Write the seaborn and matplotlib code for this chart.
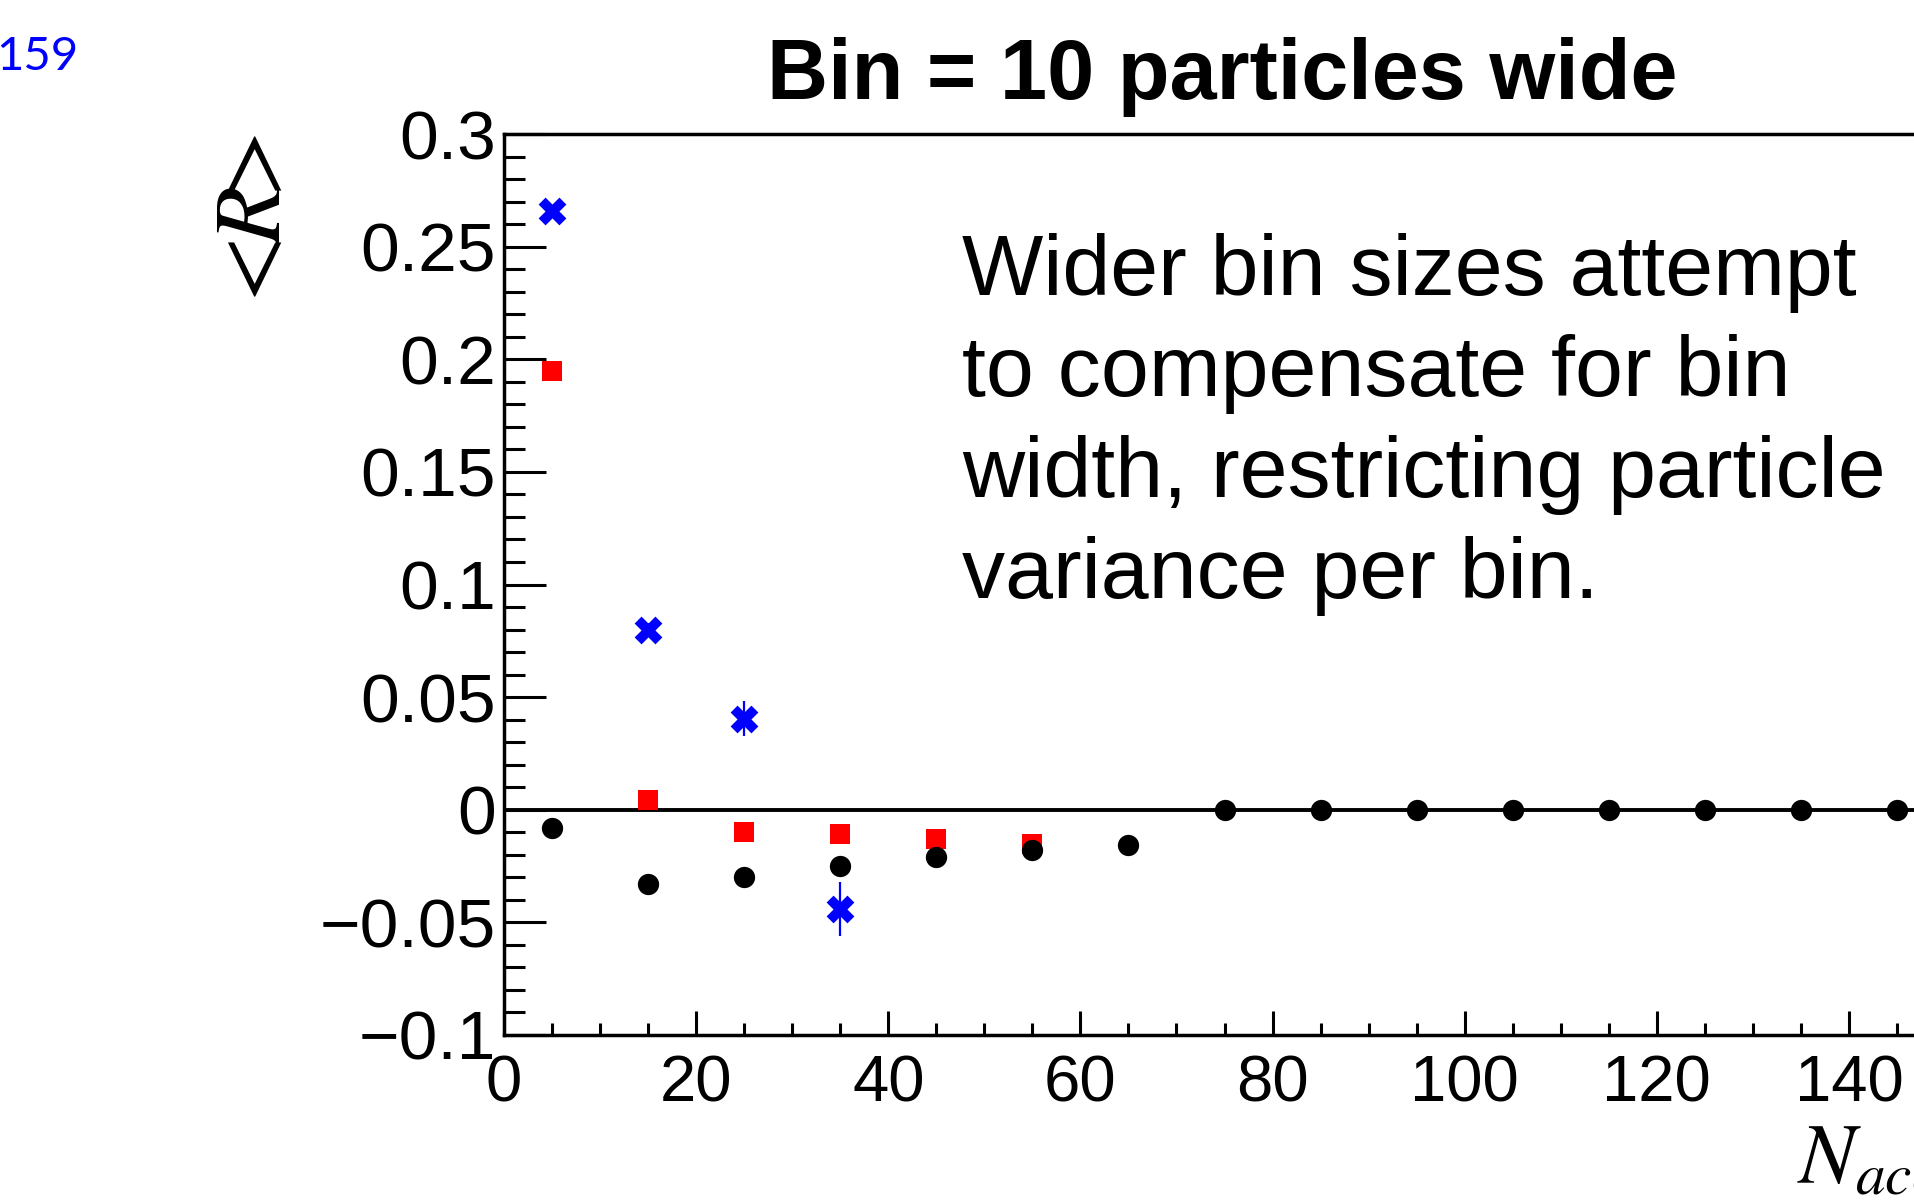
import matplotlib
matplotlib.use('Agg')
import matplotlib.pyplot as plt
from matplotlib.ticker import MultipleLocator, FuncFormatter
import seaborn as sns
import pandas as pd

# bin centres along N_acc, bins are 10 particles wide
black_x = [5, 15, 25, 35, 45, 55, 65, 75, 85, 95, 105, 115, 125, 135, 145]
black_y = [-0.008, -0.033, -0.030, -0.025, -0.021, -0.018, -0.0155,
           0.0, 0.0, 0.0, 0.0, 0.0, 0.0, 0.0, 0.0]

red_x = [5, 15, 25, 35, 45, 55]
red_y = [0.195, 0.0045, -0.010, -0.0107, -0.013, -0.015]

blue_x = [5, 15, 25, 35]
blue_y = [0.266, 0.080, 0.0405, -0.044]
blue_err = [0.002, 0.003, 0.0078, 0.0119]

title = 'Bin = 10 particles wide'
note_lines = ['Wider bin sizes attempt',
              'to compensate for bin',
              'width, restricting particle',
              'variance per bin.']
slide_no = '159'

W, H = 1914, 1202


def fig_xy(x, y):
    """pixel position (from top-left) -> figure fraction"""
    return x / W, 1 - y / H


sns.set_style('ticks')
plt.rcParams['font.family'] = ['Liberation Sans', 'DejaVu Sans']
plt.rcParams['mathtext.fontset'] = 'stix'
for key in ['text.color', 'axes.labelcolor', 'xtick.color', 'ytick.color', 'axes.edgecolor']:
    plt.rcParams[key] = 'black'

fig = plt.figure(figsize=(W / 100, H / 100), dpi=100)
fig.patch.set_facecolor('white')
ax = fig.add_axes([504 / W, 1 - 1035 / H, 1441 / W, (1035 - 134) / H])

df_black = pd.DataFrame({'n': black_x, 'r': black_y})
df_red = pd.DataFrame({'n': red_x, 'r': red_y})
df_blue = pd.DataFrame({'n': blue_x, 'r': blue_y})

ax.axhline(0, color='black', lw=2.8, zorder=1)

sns.scatterplot(data=df_red, x='n', y='r', ax=ax, marker='s', color='#ff0000',
                s=190, linewidth=0, zorder=3, legend=False)
sns.scatterplot(data=df_black, x='n', y='r', ax=ax, marker='o', color='black',
                s=235, linewidth=0, zorder=4, legend=False)
ax.errorbar(blue_x, blue_y, yerr=blue_err, fmt='none', ecolor='#0000ff',
            elinewidth=1.6, zorder=5)
sns.scatterplot(data=df_blue, x='n', y='r', ax=ax, marker='X', color='#0000ff',
                s=400, linewidth=0, zorder=6, legend=False)

ax.set_xlim(0, 150)
ax.set_ylim(-0.1, 0.3)
ax.set_xlabel('')
ax.set_ylabel('')

ax.xaxis.set_major_locator(MultipleLocator(20))
ax.xaxis.set_minor_locator(MultipleLocator(5))
ax.yaxis.set_major_locator(MultipleLocator(0.05))
ax.yaxis.set_minor_locator(MultipleLocator(0.01))
ax.yaxis.set_major_formatter(FuncFormatter(lambda v, p: ('%g' % round(v, 3)).replace('-', '\u2212')))

ax.tick_params(axis='y', which='major', direction='in', length=30, width=2.2,
               labelsize=50, pad=6, right=False)
ax.tick_params(axis='y', which='minor', direction='in', length=15, width=2.2, right=False)
ax.tick_params(axis='x', which='major', direction='in', length=17, width=2.2,
               labelsize=47, pad=14, top=False)
ax.tick_params(axis='x', which='minor', direction='in', length=8.6, width=2.2, top=False)

for side in ['left', 'bottom', 'top', 'right']:
    ax.spines[side].set_visible(True)
    ax.spines[side].set_linewidth(2.5)
    ax.spines[side].set_color('black')

# titles and labels
fig.text(*fig_xy(1222, 99), title, ha='center', va='baseline',
         fontsize=61, fontweight='bold')
fig.text(*fig_xy(-4, 70), slide_no, ha='left', va='baseline',
         fontsize=34, color='#0000ff', family=['Lato', 'DejaVu Sans'])
fig.text(*fig_xy(255, 224), r'$<\!\!R\!\!>$', ha='center', va='center',
         rotation=90, fontsize=69)
fig.text(*fig_xy(1797, 1183), r'$N_{acc}$', ha='left', va='baseline',
         fontsize=61)

baselines = [295, 396, 497, 598]
for line, yb in zip(note_lines, baselines):
    fig.text(*fig_xy(962, yb), line, ha='left', va='baseline', fontsize=62)

fig.savefig('out.png', dpi=100)
